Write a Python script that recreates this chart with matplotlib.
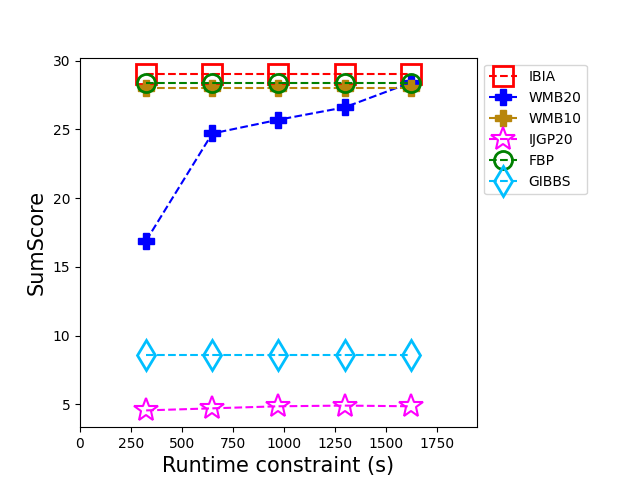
import matplotlib
matplotlib.use('Agg')
import matplotlib.pyplot as plt

runtimes = [324, 648, 972, 1296, 1620]

ibia = [29.0, 29.0, 29.0, 29.0, 29.0]
wmb20 = [16.9, 24.7, 25.7, 26.6, 28.4]
wmb10 = [28.0, 28.0, 28.0, 28.0, 28.0]
ijgp20 = [4.55, 4.7, 4.85, 4.9, 4.85]
fbp = [28.4, 28.4, 28.4, 28.4, 28.4]
gibbs = [8.57, 8.57, 8.57, 8.57, 8.57]

fig, ax = plt.subplots(figsize=(6.4, 4.8))
fig.subplots_adjust(right=0.745)

ax.plot(runtimes, ibia, '--', color='red', marker='s', markersize=15,
        fillstyle='none', markeredgewidth=2, label='IBIA')
ax.plot(runtimes, wmb20, '--', color='blue', marker='P', markersize=11,
        label='WMB20')
ax.plot(runtimes, wmb10, '--', color='darkgoldenrod', marker='P', markersize=11,
        label='WMB10')
ax.plot(runtimes, ijgp20, '--', color='magenta', marker='*', markersize=18,
        fillstyle='none', markeredgewidth=1.5, label='IJGP20')
ax.plot(runtimes, fbp, '--', color='green', marker='o', markersize=13,
        fillstyle='none', markeredgewidth=2, label='FBP')
ax.plot(runtimes, gibbs, '--', color='deepskyblue', marker='d', markersize=15,
        fillstyle='none', markeredgewidth=2, label='GIBBS')

ax.set_xlim(0, 1944)
ax.set_xlabel('Runtime constraint (s)', fontsize=15)
ax.set_ylabel('SumScore', fontsize=15)
ax.legend(loc='upper left', bbox_to_anchor=(1.0, 1.0))

fig.savefig('out.png', dpi=100)
